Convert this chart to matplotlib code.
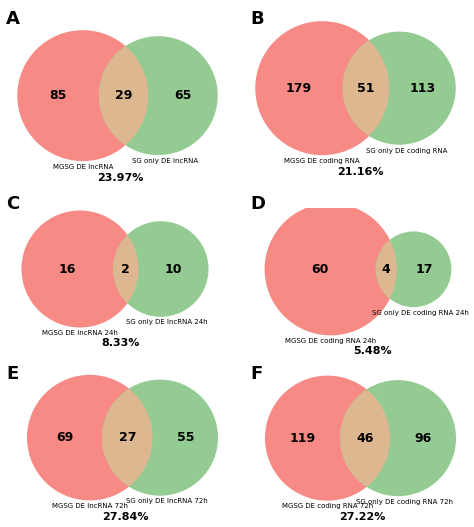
import numpy as np
import matplotlib
matplotlib.use("Agg")
import matplotlib.pyplot as plt
from matplotlib.patches import Circle

letters = ["A", "B", "C", "D", "E", "F"]
left_only = [85, 179, 16, 60, 69, 119]
overlap = [29, 51, 2, 4, 27, 46]
right_only = [65, 113, 10, 17, 55, 96]
left_labels = ["MGSG DE lncRNA", "MGSG DE coding RNA", "MGSG DE lncRNA 24h",
               "MGSG DE coding RNA 24h", "MGSG DE lncRNA 72h", "MGSG DE coding RNA 72h"]
right_labels = ["SG only DE lncRNA", "SG only DE coding RNA", "SG only DE lncRNA 24h",
                "SG only DE coding RNA 24h", "SG only DE lncRNA 72h", "SG only DE coding RNA 72h"]
percents = ["23.97%", "21.16%", "8.33%", "5.48%", "27.84%", "27.22%"]

def lens_area(r1, r2, d):
    if d >= r1 + r2: return 0.0
    if d <= abs(r1 - r2): return np.pi * min(r1, r2) ** 2
    a = r1**2*np.arccos((d*d+r1*r1-r2*r2)/(2*d*r1)) + r2**2*np.arccos((d*d+r2*r2-r1*r1)/(2*d*r2))
    b = 0.5*np.sqrt((-d+r1+r2)*(d+r1-r2)*(d-r1+r2)*(d+r1+r2))
    return a - b

def solve_d(r1, r2, target):
    lo, hi = abs(r1 - r2), r1 + r2
    for _ in range(100):
        mid = (lo + hi) / 2
        if lens_area(r1, r2, mid) > target: lo = mid
        else: hi = mid
    return (lo + hi) / 2

W, H = 474, 527
fig = plt.figure(figsize=(W/100, H/100), dpi=100)
boxes = [(10, 28, 215, 160), (248, 18, 215, 165),
         (15, 205, 200, 150), (258, 208, 200, 145),
         (20, 372, 205, 155), (258, 375, 205, 150)]
letter_pos = [(6, 10), (250, 10), (6, 195), (250, 195), (6, 365), (250, 365)]

for i in range(6):
    x0, yt, w, h = boxes[i]
    ax = fig.add_axes([x0/W, 1-(yt+h)/H, w/W, h/H])
    ax.axis("off")
    A = left_only[i] + overlap[i]; B = right_only[i] + overlap[i]
    tot = left_only[i] + overlap[i] + right_only[i]
    r1 = np.sqrt(A/tot/np.pi); r2 = np.sqrt(B/tot/np.pi)
    d = solve_d(r1, r2, overlap[i]/tot)
    cx1, cx2 = -d/2, d/2
    red = Circle((cx1, 0), r1, fc="#f88a86", lw=0)
    ax.add_patch(red)
    ax.add_patch(Circle((cx2, 0), r2, fc="#93cb93", lw=0))
    lens = Circle((cx2, 0), r2, fc="#dcb78f", lw=0)
    ax.add_patch(lens)
    lens.set_clip_path(red)
    ax.text((cx1 - r1 + cx2 - r2)/2, 0, str(left_only[i]), ha="center", va="center", fontsize=9, fontweight="bold")
    ax.text((cx1 + r1 + cx2 - r2)/2, 0, str(overlap[i]), ha="center", va="center", fontsize=9, fontweight="bold")
    ax.text((cx1 + r1 + cx2 + r2)/2, 0, str(right_only[i]), ha="center", va="center", fontsize=9, fontweight="bold")
    ax.text(cx1, -r1 - 0.02, left_labels[i], ha="center", va="top", fontsize=5)
    ax.text(cx2 + 0.05, -r2 - 0.02, right_labels[i], ha="center", va="top", fontsize=5)
    ax.text(0, -max(r1, r2) - 0.08, percents[i], ha="center", va="top", fontsize=8, fontweight="bold")
    R = max(r1, r2)
    ax.set_xlim(cx1 - r1 - 0.05, cx2 + r2 + 0.05)
    ax.set_ylim(-R - 0.2, R + 0.03)
    ax.set_aspect("equal", adjustable="datalim")
    lx, ly = letter_pos[i]
    fig.text(lx/W, 1-ly/H, letters[i], fontsize=13, fontweight="bold", va="top", ha="left")

fig.savefig("out.png", dpi=100)
